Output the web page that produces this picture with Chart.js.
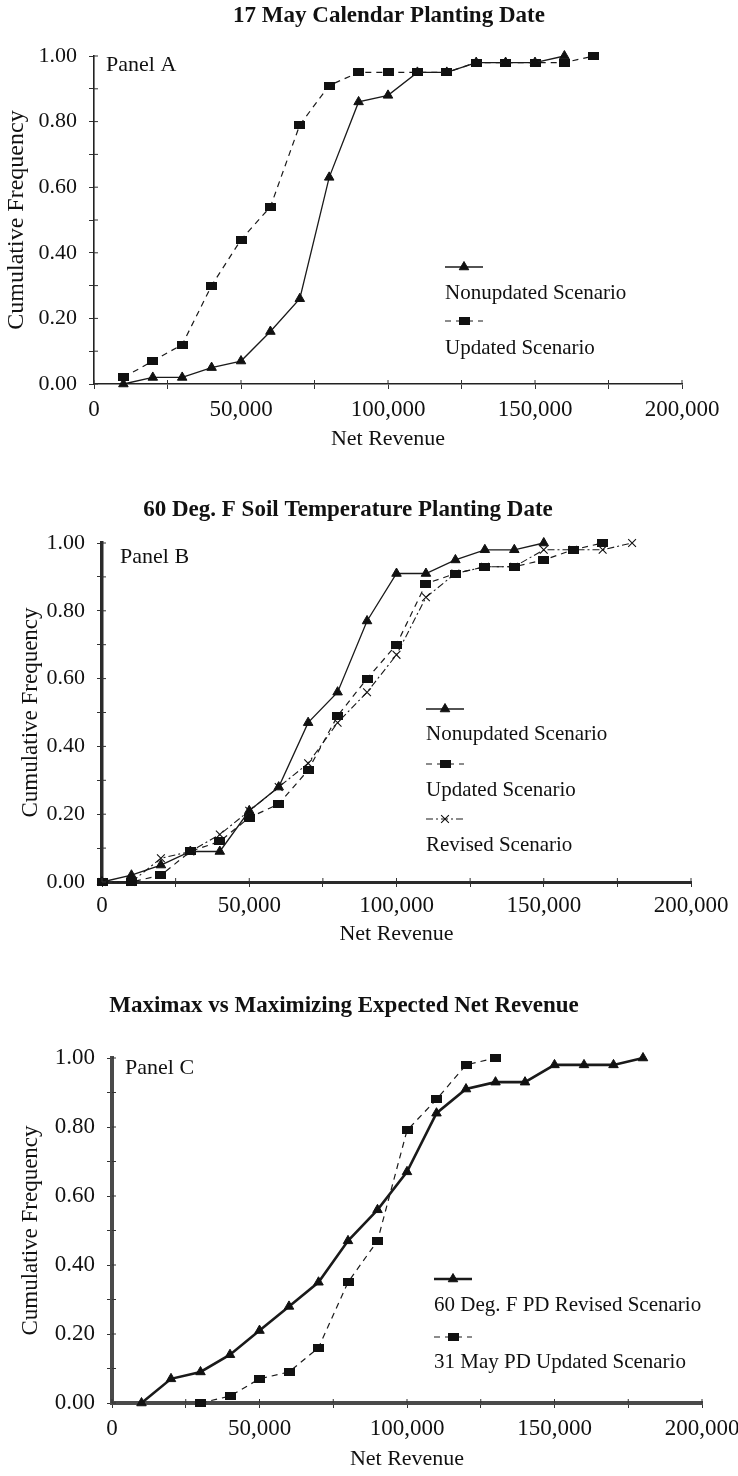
<!DOCTYPE html>
<html>
<head>
<meta charset="utf-8">
<title>Cumulative frequency of net revenue</title>
<script src="https://cdn.jsdelivr.net/npm/chart.js@4.4.1/dist/chart.umd.min.js"></script>
<style>
  html, body { margin: 0; padding: 0; background: #fff; }
  #page { position: relative; width: 738px; height: 1476px; overflow: hidden; }
  .panel { position: absolute; left: 0; }
</style>
</head>
<body>
<div id="page">
  <canvas class="panel" id="panelA" width="738" height="465" style="top:0px"></canvas>
  <canvas class="panel" id="panelB" width="738" height="490" style="top:470px"></canvas>
  <canvas class="panel" id="panelC" width="738" height="516" style="top:960px"></canvas>
</div>
<script>
// Panel A - 17 May calendar planting date
const aRevenueNonupdated = [10000, 20000, 30000, 40000, 50000, 60000, 70000, 80000, 90000, 100000, 110000, 120000, 130000, 140000, 150000, 160000];
const aFreqNonupdated = [0.00, 0.02, 0.02, 0.05, 0.07, 0.16, 0.26, 0.63, 0.86, 0.88, 0.95, 0.95, 0.98, 0.98, 0.98, 1.00];
const aRevenueUpdated = [10000, 20000, 30000, 40000, 50000, 60000, 70000, 80000, 90000, 100000, 110000, 120000, 130000, 140000, 150000, 160000, 170000];
const aFreqUpdated = [0.02, 0.07, 0.12, 0.30, 0.44, 0.54, 0.79, 0.91, 0.95, 0.95, 0.95, 0.95, 0.98, 0.98, 0.98, 0.98, 1.00];

// Panel B - 60 deg. F soil temperature planting date
const bRevenueNonupdated = [0, 10000, 20000, 30000, 40000, 50000, 60000, 70000, 80000, 90000, 100000, 110000, 120000, 130000, 140000, 150000];
const bFreqNonupdated = [0.00, 0.02, 0.05, 0.09, 0.09, 0.21, 0.28, 0.47, 0.56, 0.77, 0.91, 0.91, 0.95, 0.98, 0.98, 1.00];
const bRevenueUpdated = [0, 10000, 20000, 30000, 40000, 50000, 60000, 70000, 80000, 90000, 100000, 110000, 120000, 130000, 140000, 150000, 160000, 170000];
const bFreqUpdated = [0.00, 0.00, 0.02, 0.09, 0.12, 0.19, 0.23, 0.33, 0.49, 0.60, 0.70, 0.88, 0.91, 0.93, 0.93, 0.95, 0.98, 1.00];
const bRevenueRevised = [0, 10000, 20000, 30000, 40000, 50000, 60000, 70000, 80000, 90000, 100000, 110000, 120000, 130000, 140000, 150000, 160000, 170000, 180000];
const bFreqRevised = [0.00, 0.00, 0.07, 0.09, 0.14, 0.21, 0.28, 0.35, 0.47, 0.56, 0.67, 0.84, 0.91, 0.93, 0.93, 0.98, 0.98, 0.98, 1.00];

// Panel C - maximax vs maximizing expected net revenue
const cRevenueRevised = [10000, 20000, 30000, 40000, 50000, 60000, 70000, 80000, 90000, 100000, 110000, 120000, 130000, 140000, 150000, 160000, 170000, 180000];
const cFreqRevised = [0.00, 0.07, 0.09, 0.14, 0.21, 0.28, 0.35, 0.47, 0.56, 0.67, 0.84, 0.91, 0.93, 0.93, 0.98, 0.98, 0.98, 1.00];
const cRevenueUpdated = [30000, 40000, 50000, 60000, 70000, 80000, 90000, 100000, 110000, 120000, 130000];
const cFreqUpdated = [0.00, 0.02, 0.07, 0.09, 0.16, 0.35, 0.47, 0.79, 0.88, 0.98, 1.00];

const panelTitles = ['17 May Calendar Planting Date', '60 Deg. F Soil Temperature Planting Date', 'Maximax vs Maximizing Expected Net Revenue'];
const panelLabels = ['Panel A', 'Panel B', 'Panel C'];
const xTitle = 'Net Revenue';
const yTitle = 'Cumulative Frequency';

const SERIF = '"Liberation Serif", "Times New Roman", serif';
const INK = '#111';
Chart.defaults.font.family = SERIF;
Chart.defaults.color = INK;

function toPoints(xs, ys) {
    return xs.map((x, i) => ({ x: x, y: ys[i] }));
}

// wide filled rectangle, the square marker of the original looks flattened
function makeRectMarker(w, h) {
    const c = document.createElement('canvas');
    c.width = w;
    c.height = h;
    const g = c.getContext('2d');
    g.fillStyle = INK;
    g.fillRect(0, 0, w, h);
    return c;
}
const squareMarker = makeRectMarker(11, 8);

function withCommas(v) {
    return String(v).replace(/\B(?=(\d{3})+(?!\d))/g, ',');
}

// the old plot has tick marks that cross the axis; chart.js only draws the outer half
const crossTicks = {
    id: 'crossTicks',
    afterDraw(chart) {
        const ctx = chart.ctx;
        const area = chart.chartArea;
        ctx.save();
        ctx.strokeStyle = '#333';
        ctx.lineWidth = 1;
        ctx.beginPath();
        chart.scales.y.ticks.forEach(t => {
            const py = chart.scales.y.getPixelForValue(t.value);
            ctx.moveTo(area.left, py);
            ctx.lineTo(area.left + 4, py);
        });
        chart.scales.x.ticks.forEach(t => {
            const px = chart.scales.x.getPixelForValue(t.value);
            ctx.moveTo(px, area.bottom);
            ctx.lineTo(px, area.bottom - 4);
        });
        ctx.stroke();
        ctx.restore();
    }
};

// title, panel label and the stacked legend (symbol above text) of each panel
const panelDecor = {
    id: 'panelDecor',
    afterDraw(chart, args, opts) {
        const ctx = chart.ctx;
        ctx.save();
        ctx.fillStyle = INK;
        ctx.textBaseline = 'middle';
        ctx.textAlign = 'center';
        ctx.font = 'bold 23px ' + SERIF;
        ctx.fillText(opts.title, opts.titleX, opts.titleY);
        ctx.textAlign = 'left';
        ctx.font = '22px ' + SERIF;
        ctx.fillText(opts.label, opts.labelX, opts.labelY);

        chart.data.datasets.forEach((ds, i) => {
            const x0 = opts.legendX;
            const symY = opts.legendY[i * 2];
            const textY = opts.legendY[i * 2 + 1];
            ctx.save();
            ctx.strokeStyle = ds.borderColor;
            ctx.lineWidth = ds.borderWidth;
            ctx.setLineDash(ds.borderDash || []);
            ctx.beginPath();
            ctx.moveTo(x0, symY);
            ctx.lineTo(x0 + 38, symY);
            ctx.stroke();
            ctx.setLineDash([]);
            ctx.fillStyle = ds.pointBackgroundColor;
            ctx.strokeStyle = ds.pointBorderColor;
            ctx.lineWidth = ds.pointBorderWidth;
            Chart.helpers.drawPoint(ctx, {
                pointStyle: ds.pointStyle,
                radius: ds.pointRadius,
                borderWidth: ds.pointBorderWidth,
                rotation: 0
            }, x0 + 19, symY);
            ctx.restore();
            ctx.fillStyle = INK;
            ctx.font = '21px ' + SERIF;
            ctx.fillText(ds.label, x0, textY);
        });
        ctx.restore();
    }
};

function triangleSeries(label, xs, ys, width) {
    return {
        label: label,
        data: toPoints(xs, ys),
        borderColor: '#1a1a1a',
        borderWidth: width,
        pointStyle: 'triangle',
        pointRadius: 5.5,
        pointBackgroundColor: INK,
        pointBorderColor: INK,
        pointBorderWidth: 1,
        tension: 0,
        clip: false
    };
}

function squareSeries(label, xs, ys) {
    return {
        label: label,
        data: toPoints(xs, ys),
        borderColor: '#1a1a1a',
        borderWidth: 1.2,
        borderDash: [6, 5],
        pointStyle: squareMarker,
        pointRadius: 6,
        pointBackgroundColor: INK,
        pointBorderColor: INK,
        pointBorderWidth: 0,
        tension: 0,
        clip: false
    };
}

function crossSeries(label, xs, ys) {
    return {
        label: label,
        data: toPoints(xs, ys),
        borderColor: '#1a1a1a',
        borderWidth: 1.1,
        borderDash: [7, 3, 2, 3],
        pointStyle: 'crossRot',
        pointRadius: 5.5,
        pointBackgroundColor: INK,
        pointBorderColor: INK,
        pointBorderWidth: 1.1,
        tension: 0,
        clip: false
    };
}

function makePanel(id, datasets, look) {
    return new Chart(document.getElementById(id), {
        type: 'line',
        data: { datasets: datasets },
        plugins: [crossTicks, panelDecor],
        options: {
            responsive: false,
            animation: false,
            layout: { padding: { left: 0, top: look.padTop, right: look.padRight, bottom: look.padBottom } },
            plugins: {
                legend: { display: false },
                tooltip: { enabled: false },
                title: { display: false },
                panelDecor: look.decor
            },
            scales: {
                x: {
                    type: 'linear',
                    min: 0,
                    max: 200000,
                    border: { display: true, color: look.axisColor, width: look.xAxisWidth },
                    grid: { drawOnChartArea: false, drawTicks: true, tickLength: 5, color: '#333', lineWidth: 1 },
                    ticks: {
                        stepSize: 25000,
                        autoSkip: false,
                        maxRotation: 0,
                        padding: look.xTickPad,
                        font: { size: 23 },
                        color: INK,
                        callback: v => (v % 50000 === 0 ? withCommas(v) : '')
                    },
                    title: { display: true, text: xTitle, font: { size: 22 }, color: INK, padding: { top: 0, bottom: 0 } },
                    afterFit(scale) {
                        scale.height = look.xHeight;
                        scale.paddingLeft = 0;
                        scale.paddingRight = 0;
                    }
                },
                y: {
                    type: 'linear',
                    min: 0,
                    max: 1,
                    border: { display: true, color: look.axisColor, width: look.yAxisWidth },
                    grid: { drawOnChartArea: false, drawTicks: true, tickLength: 5, color: '#333', lineWidth: 1 },
                    ticks: {
                        stepSize: 0.1,
                        autoSkip: false,
                        padding: 12,
                        font: { size: look.yTickSize },
                        color: INK,
                        callback: v => (Math.round(v * 10) % 2 === 0 ? v.toFixed(2) : '')
                    },
                    title: { display: true, text: yTitle, font: { size: look.yTitleSize }, color: INK, padding: { top: look.yTitlePad, bottom: 0 } },
                    afterFit(scale) {
                        scale.width = look.yWidth;
                        scale.paddingTop = 0;
                        scale.paddingBottom = 0;
                    }
                }
            }
        }
    });
}

makePanel('panelA', [
    triangleSeries('Nonupdated Scenario', aRevenueNonupdated, aFreqNonupdated, 1.3),
    squareSeries('Updated Scenario', aRevenueUpdated, aFreqUpdated)
], {
    padTop: 56, padRight: 56, padBottom: 13, yWidth: 94, xHeight: 68,
    axisColor: '#222', xAxisWidth: 1.6, yAxisWidth: 1.6, xTickPad: 7,
    yTickSize: 22, yTitleSize: 24, yTitlePad: 2,
    decor: {
        title: panelTitles[0], titleX: 389, titleY: 16,
        label: panelLabels[0], labelX: 106, labelY: 65,
        legendX: 445, legendY: [267, 293, 321, 348]
    }
});

makePanel('panelB', [
    triangleSeries('Nonupdated Scenario', bRevenueNonupdated, bFreqNonupdated, 1.3),
    squareSeries('Updated Scenario', bRevenueUpdated, bFreqUpdated),
    crossSeries('Revised Scenario', bRevenueRevised, bFreqRevised)
], {
    padTop: 73, padRight: 47, padBottom: 13, yWidth: 102, xHeight: 65,
    axisColor: '#2a2a2a', xAxisWidth: 3, yAxisWidth: 3.5, xTickPad: 5,
    yTickSize: 22, yTitleSize: 23, yTitlePad: 17,
    decor: {
        title: panelTitles[1], titleX: 348, titleY: 40,
        label: panelLabels[1], labelX: 120, labelY: 87,
        legendX: 426, legendY: [239, 264, 294, 320, 349, 375]
    }
});

makePanel('panelC', [
    triangleSeries('60 Deg. F PD Revised Scenario', cRevenueRevised, cFreqRevised, 2.6),
    squareSeries('31 May PD Updated Scenario', cRevenueUpdated, cFreqUpdated)
], {
    padTop: 98, padRight: 36, padBottom: 4, yWidth: 112, xHeight: 69,
    axisColor: '#4a4a4a', xAxisWidth: 4, yAxisWidth: 4, xTickPad: 7,
    yTickSize: 23, yTitleSize: 23, yTitlePad: 17,
    decor: {
        title: panelTitles[2], titleX: 344, titleY: 46,
        label: panelLabels[2], labelX: 125, labelY: 108,
        legendX: 434, legendY: [319, 345, 377, 402]
    }
});
</script>
</body>
</html>
